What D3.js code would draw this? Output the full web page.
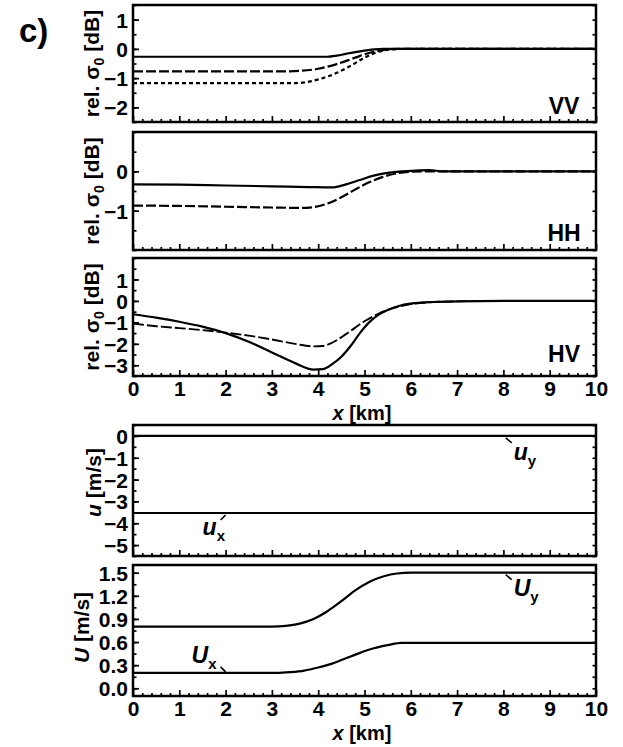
<!DOCTYPE html>
<html>
<head>
<meta charset="utf-8">
<script src="https://cdn.jsdelivr.net/npm/d3@7"></script>
<style>
  html, body { margin: 0; padding: 0; background: #fff; }
  svg { display: block; }
  text { font-family: "Liberation Sans", Arial, Helvetica, sans-serif; font-weight: bold; fill: #000; }
</style>
</head>
<body>
<svg id="chart" width="623" height="747"></svg>
<script>
// Along-track distance ticks (km)
const xTicks = [0, 1, 2, 3, 4, 5, 6, 7, 8, 9, 10];

// VV: relative NRCS profiles (dB)
const vvSolidX = [0, 4.2, 4.4, 4.6, 4.8, 5.0, 5.2, 5.4, 5.6, 10];
const vvSolidY = [-0.27, -0.27, -0.23, -0.17, -0.11, -0.06, -0.02, 0, 0, 0];
const vvLongX = [0, 3.2, 3.6, 4.0, 4.4, 4.8, 5.1, 5.4, 5.7, 10];
const vvLongY = [-0.77, -0.77, -0.75, -0.68, -0.52, -0.3, -0.14, -0.04, 0, 0];
const vvShortX = [0, 3.5, 3.8, 4.1, 4.4, 4.7, 5.0, 5.3, 5.6, 5.9, 10];
const vvShortY = [-1.17, -1.17, -1.12, -1.0, -0.82, -0.58, -0.3, -0.1, -0.02, 0, 0];

// HH
const hhSolidX = [0, 1, 2, 3, 3.8, 4.3, 4.6, 4.9, 5.2, 5.5, 5.8, 6.1, 6.4, 6.7, 10];
const hhSolidY = [-0.33, -0.34, -0.36, -0.38, -0.4, -0.41, -0.33, -0.22, -0.11, -0.04, 0, 0.02, 0.03, 0, 0];
const hhDashX = [0, 1, 2, 3, 3.6, 3.9, 4.2, 4.5, 4.8, 5.1, 5.4, 5.7, 6.0, 6.3, 10];
const hhDashY = [-0.87, -0.88, -0.9, -0.92, -0.93, -0.91, -0.82, -0.66, -0.46, -0.28, -0.14, -0.05, -0.01, 0, 0];

// HV
const hvSolidX = [0, 0.5, 1, 1.5, 2, 2.5, 3, 3.5, 3.9, 4.1, 4.3, 4.5, 4.7, 4.9, 5.1, 5.3, 5.5, 5.8, 6.1, 6.5, 7, 8, 10];
const hvSolidY = [-0.62, -0.78, -0.97, -1.2, -1.5, -1.9, -2.4, -2.9, -3.2, -3.18, -2.95, -2.6, -2.1, -1.5, -1.0, -0.65, -0.42, -0.2, -0.1, -0.05, -0.02, 0, 0];
const hvDashX = [0, 0.5, 1, 1.5, 2, 2.5, 3, 3.5, 3.9, 4.1, 4.3, 4.6, 5.0, 5.3, 5.6, 6.0, 6.5, 7, 8, 10];
const hvDashY = [-1.05, -1.18, -1.27, -1.36, -1.48, -1.62, -1.8, -2.0, -2.12, -2.1, -1.95, -1.55, -0.95, -0.6, -0.35, -0.15, -0.05, -0.02, 0, 0];

// Surface current components u (m/s)
const uX = [0, 10];
const uxVals = [-3.53, -3.53];
const uyVals = [0, 0];

// Wind / drift components U (m/s)
const UyX = [0, 3, 3.3, 3.6, 3.9, 4.2, 4.5, 4.8, 5.1, 5.4, 5.7, 6.0, 10];
const UyVals = [0.8, 0.8, 0.81, 0.84, 0.9, 1.0, 1.13, 1.27, 1.38, 1.45, 1.49, 1.5, 1.5];
const UxX = [0, 3.1, 3.4, 3.7, 4.0, 4.3, 4.6, 4.9, 5.2, 5.5, 5.8, 10];
const UxVals = [0.2, 0.2, 0.21, 0.23, 0.27, 0.32, 0.39, 0.46, 0.52, 0.56, 0.59, 0.59];

const svg = d3.select("#chart");
const left = 133, right = 596;
const x = d3.scaleLinear().domain([0, 10]).range([left, right]);

function pairs(xs, ys) { return xs.map((v, i) => [v, ys[i]]); }

function panel(opts) {
  const y = d3.scaleLinear().domain(opts.domain).range([opts.bottom, opts.top]);
  const g = svg.append("g");

  // bottom ticks, inside
  const minorX = d3.range(0, 10.001, 0.2).filter(v => Math.abs(v - Math.round(v)) > 1e-6);
  g.append("g").attr("transform", `translate(0,${opts.bottom})`)
    .call(d3.axisBottom(x).tickValues(minorX).tickSize(-3).tickFormat(""))
    .call(s => s.select(".domain").remove());
  const bx = g.append("g").attr("transform", `translate(0,${opts.bottom})`)
    .call(d3.axisBottom(x).tickValues(xTicks).tickSize(-6)
      .tickFormat(opts.xLabels ? d3.format("d") : ""))
    .call(s => s.select(".domain").remove());
  bx.selectAll("text").attr("y", 20).attr("dy", null)
    .style("font-size", "21px").style("font-family", null);

  // left ticks, inside
  g.append("g").attr("transform", `translate(${left},0)`)
    .call(d3.axisLeft(y).tickValues(opts.minorY).tickSize(-3.5).tickFormat(""))
    .call(s => s.select(".domain").remove());
  const ly = g.append("g").attr("transform", `translate(${left},0)`)
    .call(d3.axisLeft(y).tickValues(opts.yTicks).tickSize(-6).tickFormat(opts.fmt))
    .call(s => s.select(".domain").remove());
  ly.selectAll("text").attr("x", -5).attr("dy", "0.36em")
    .style("font-size", "21px").style("font-family", null);

  // right ticks, inside
  g.append("g").attr("transform", `translate(${right},0)`)
    .call(d3.axisRight(y).tickValues(opts.minorY).tickSize(-3.5).tickFormat(""))
    .call(s => s.select(".domain").remove());

  g.selectAll(".tick line").attr("stroke", "#000").attr("stroke-width", 1.7);

  // curves
  const line = d3.line().x(d => x(d[0])).y(d => y(d[1])).curve(d3.curveMonotoneX);
  opts.series.forEach(s => {
    g.append("path").datum(pairs(s.xs, s.ys))
      .attr("d", line).attr("fill", "none").attr("stroke", "#000")
      .attr("stroke-width", s.w || 2.2)
      .attr("stroke-dasharray", s.dash || null);
  });

  // frame
  g.append("rect").attr("x", left).attr("y", opts.top)
    .attr("width", right - left).attr("height", opts.bottom - opts.top)
    .attr("fill", "none").attr("stroke", "#000").attr("stroke-width", 2.5);

  // y title, rotated
  const cy = (opts.top + opts.bottom) / 2 + (opts.titleShift || 0);
  const t = g.append("text").attr("transform", `translate(${opts.titleX || 100},${cy}) rotate(-90)`)
    .attr("text-anchor", "middle").style("font-size", "21px");
  opts.title(t);

  if (opts.tag) {
    g.append("text").attr("x", 564).attr("y", opts.bottom - opts.tagLift)
      .attr("text-anchor", "middle").style("font-size", "23px").text(opts.tag);
  }
  if (opts.xLabels) {
    const xt = g.append("text").attr("x", 362).attr("y", opts.bottom + 44)
      .attr("text-anchor", "middle").style("font-size", "20px");
    xt.append("tspan").style("font-style", "italic").text("x");
    xt.append("tspan").text(" [km]");
  }
  return { g, y };
}

function sigmaTitle(t) {
  t.append("tspan").text("rel. σ");
  t.append("tspan").attr("dy", 5).style("font-size", "14px").text("0");
  t.append("tspan").attr("dy", -5).text(" [dB]");
}

panel({
  top: 5, bottom: 122, domain: [-2.5, 1.5],
  yTicks: [1, 0, -1, -2], minorY: d3.range(-2.5, 1.51, 0.5), fmt: d3.format("d"),
  title: sigmaTitle, tag: "VV", tagLift: 8, titleX: 99,
  series: [
    { xs: vvShortX, ys: vvShortY, dash: "4,3" },
    { xs: vvLongX, ys: vvLongY, dash: "10,3" },
    { xs: vvSolidX, ys: vvSolidY }
  ]
});

panel({
  top: 132, bottom: 250, domain: [-2, 1],
  yTicks: [0, -1], minorY: d3.range(-2, 1.01, 0.5), fmt: d3.format("d"),
  title: sigmaTitle, tag: "HH", tagLift: 9, titleX: 99,
  series: [
    { xs: hhDashX, ys: hhDashY, dash: "10,3" },
    { xs: hhSolidX, ys: hhSolidY }
  ]
});

panel({
  top: 258, bottom: 376, domain: [-3.5, 2],
  yTicks: [1, 0, -1, -2, -3], minorY: d3.range(-3.5, 2.01, 0.5), fmt: d3.format("d"),
  title: sigmaTitle, tag: "HV", tagLift: 14, xLabels: true, titleX: 99,
  series: [
    { xs: hvDashX, ys: hvDashY, dash: "11,3", w: 1.9 },
    { xs: hvSolidX, ys: hvSolidY }
  ]
});

const pu = panel({
  top: 425, bottom: 556, domain: [-5.5, 0.5],
  yTicks: [0, -1, -2, -3, -4, -5], minorY: d3.range(-5.5, 0.51, 0.5), fmt: d3.format("d"),
  titleShift: -8, titleX: 101,
  title: t => { t.append("tspan").style("font-style", "italic").text("u"); t.append("tspan").text(" [m/s]"); },
  series: [
    { xs: uX, ys: uyVals },
    { xs: uX, ys: uxVals }
  ]
});

const pU = panel({
  top: 565, bottom: 696, domain: [-0.1, 1.6],
  yTicks: [0, 0.3, 0.6, 0.9, 1.2, 1.5], minorY: d3.range(0, 1.51, 0.15), fmt: d3.format(".1f"),
  titleShift: -3, titleX: 89,
  title: t => { t.append("tspan").style("font-style", "italic").text("U"); t.append("tspan").text(" [m/s]"); },
  xLabels: true,
  series: [
    { xs: UyX, ys: UyVals },
    { xs: UxX, ys: UxVals }
  ]
});

// component labels with short leader lines (leader runs from the curve to the label)
function compLabel(p, xv, yv, main, sub, lead, tx, ty) {
  const px = x(xv), py = p.y(yv);
  p.g.append("line")
    .attr("x1", px).attr("y1", py + lead[0])
    .attr("x2", px + lead[1]).attr("y2", py + lead[2])
    .attr("stroke", "#000").attr("stroke-width", 1.6);
  const t = p.g.append("text").attr("x", px + tx).attr("y", py + ty).style("font-size", "23px");
  t.append("tspan").style("font-style", "italic").text(main);
  t.append("tspan").attr("dy", 6).style("font-size", "15px").text(sub);
}
compLabel(pu, 8.05, uyVals[0], "u", "y", [2, 6, 7], 8, 24);
compLabel(pu, 2.0, uxVals[0], "u", "x", [2, -5, 7], -23, 22);
compLabel(pU, 8.05, UyVals[UyVals.length - 1], "U", "y", [2, 6, 7], 8, 23);
compLabel(pU, 2.0, UxVals[0], "U", "x", [-1, -5, -6], -34, -10);

// panel letter
svg.append("text").attr("x", 19).attr("y", 42).style("font-size", "33px").text("c)");
</script>
</body>
</html>
